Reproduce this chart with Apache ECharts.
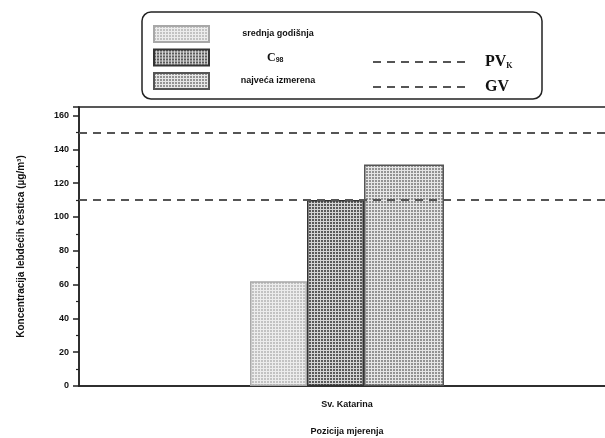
<!DOCTYPE html>
<html><head><meta charset="utf-8">
<script src="https://cdn.jsdelivr.net/npm/echarts@6/dist/echarts.min.js"></script>
<style>html,body{margin:0;padding:0;background:#fff}#c{width:605px;height:438px}</style>
</head><body><div id="c"></div>
<script>
const categories = ['Sv. Katarina'];
const seriesNames = ['srednja godišnja', 'C98', 'najveća izmerena'];
const srednja = [62];
const c98 = [110];
const najveca = [131];
const limitNames = ['PV_K', 'GV'];
const limitValues = [150, 110];
const yTicks = {min: 0, max: 165, interval: 20};

function pattern(bg, dot) {
  const c = document.createElement('canvas');
  c.width = 3; c.height = 3;
  const g = c.getContext('2d');
  g.fillStyle = bg; g.fillRect(0, 0, 3, 3);
  g.fillStyle = dot; g.fillRect(0, 0, 2, 2);
  return {image: c, repeat: 'repeat'};
}
const fills = [pattern('#ececec', '#c2c2c2'), pattern('#d4d4d4', '#5a5a5a'), pattern('#e6e6e6', '#939393')];
const borders = ['#a8a8a8', '#333333', '#555555'];
const widths = [57, 57, 80];
const values = [srednja, c98, najveca];

const font = 'Liberation Sans';
const chart = echarts.init(document.getElementById('c'), null, {renderer: 'canvas'});

const series = values.map((v, i) => ({
  name: seriesNames[i], type: 'bar', data: v, barWidth: widths[i], barGap: '0%',
  itemStyle: {color: fills[i], borderColor: borders[i], borderWidth: 1.5},
  emphasis: {disabled: true}, z: 3
}));
limitNames.forEach((n, i) => {
  series.push({
    name: n, type: 'line', data: [], symbol: 'none', showSymbol: false,
    lineStyle: {type: [8, 6], color: '#555', width: 2},
    markLine: {silent: true, symbol: 'none', label: {show: false},
      lineStyle: {type: [8, 6], color: '#555', width: 2},
      data: [{yAxis: limitValues[i]}]},
    z: 4
  });
});

chart.setOption({
  animation: false,
  backgroundColor: '#fff',
  graphic: [{type: 'rect', z: 0, shape: {x: 142, y: 12, width: 400, height: 87, r: 9},
    style: {fill: '#fff', stroke: '#222', lineWidth: 1.5}}],
  legend: [{
    left: 153, top: 25, padding: 0, orient: 'vertical', itemWidth: 55, itemHeight: 16, itemGap: 5.5,
    data: seriesNames.map(n => ({name: n, icon: 'rect'})), selectedMode: false,
    formatter: n => n === 'C98' ? '{c|C}{s|98}' : '{t|' + n + '}',
    textStyle: {fontFamily: font, fontWeight: 'bold', fontSize: 9, color: '#111',
      rich: {t: {width: 128, align: 'center', fontFamily: font, fontWeight: 'bold', fontSize: 9},
             c: {fontFamily: 'Liberation Serif', fontWeight: 'bold', fontSize: 12, padding: [0, 0, 0, 53]},
             s: {fontFamily: font, fontWeight: 'bold', fontSize: 7, padding: [5, 0, 0, 0]}}}
  }, {
    left: 372, top: 54, padding: 0, orient: 'vertical', itemWidth: 93, itemHeight: 14, itemGap: 9,
    data: limitNames, selectedMode: false,
    itemStyle: {opacity: 0},
    lineStyle: {type: [8, 6], color: '#555', width: 2},
    formatter: n => n === 'PV_K' ? '{b|PV}{s|K}' : '{b|GV}',
    textStyle: {rich: {b: {fontFamily: 'Liberation Serif', fontWeight: 'bold', fontSize: 16, color: '#111', padding: [0, 0, 0, 14]},
                       s: {fontFamily: 'Liberation Serif', fontWeight: 'bold', fontSize: 8, color: '#111', padding: [7, 0, 0, 0]}}}
  }],
  grid: {left: 79, right: -10, top: 107, bottom: 52, outerBoundsMode: 'none', containLabel: false,
    show: true, borderColor: '#222', borderWidth: 1.5, backgroundColor: 'transparent'},
  xAxis: {
    type: 'category', data: categories,
    axisLine: {lineStyle: {color: '#222', width: 1.5}},
    axisTick: {alignWithLabel: true, length: 6, lineStyle: {color: '#222', width: 1.5}},
    axisLabel: {margin: 14, fontFamily: font, fontWeight: 'bold', fontSize: 9, color: '#111'},
    name: 'Pozicija mjerenja', nameLocation: 'middle', nameGap: 41,
    nameTextStyle: {fontFamily: font, fontWeight: 'bold', fontSize: 9, color: '#111'}
  },
  yAxis: {
    type: 'value', min: yTicks.min, max: yTicks.max, interval: yTicks.interval,
    axisLine: {show: true, lineStyle: {color: '#222', width: 1.5}},
    axisTick: {show: true, length: 6, lineStyle: {color: '#222', width: 1.5}},
    minorTick: {show: true, splitNumber: 2, length: 3, lineStyle: {color: '#222', width: 1.2}},
    splitLine: {show: false},
    axisLabel: {showMaxLabel: false, margin: 10, fontFamily: font, fontWeight: 'bold', fontSize: 9, color: '#111'},
    name: 'Koncentracija lebdećih čestica (µg/m³)', nameLocation: 'middle', nameGap: 53,
    nameTextStyle: {fontFamily: font, fontWeight: 'bold', fontSize: 10, color: '#111'}
  },
  series: series
});
</script></body></html>
